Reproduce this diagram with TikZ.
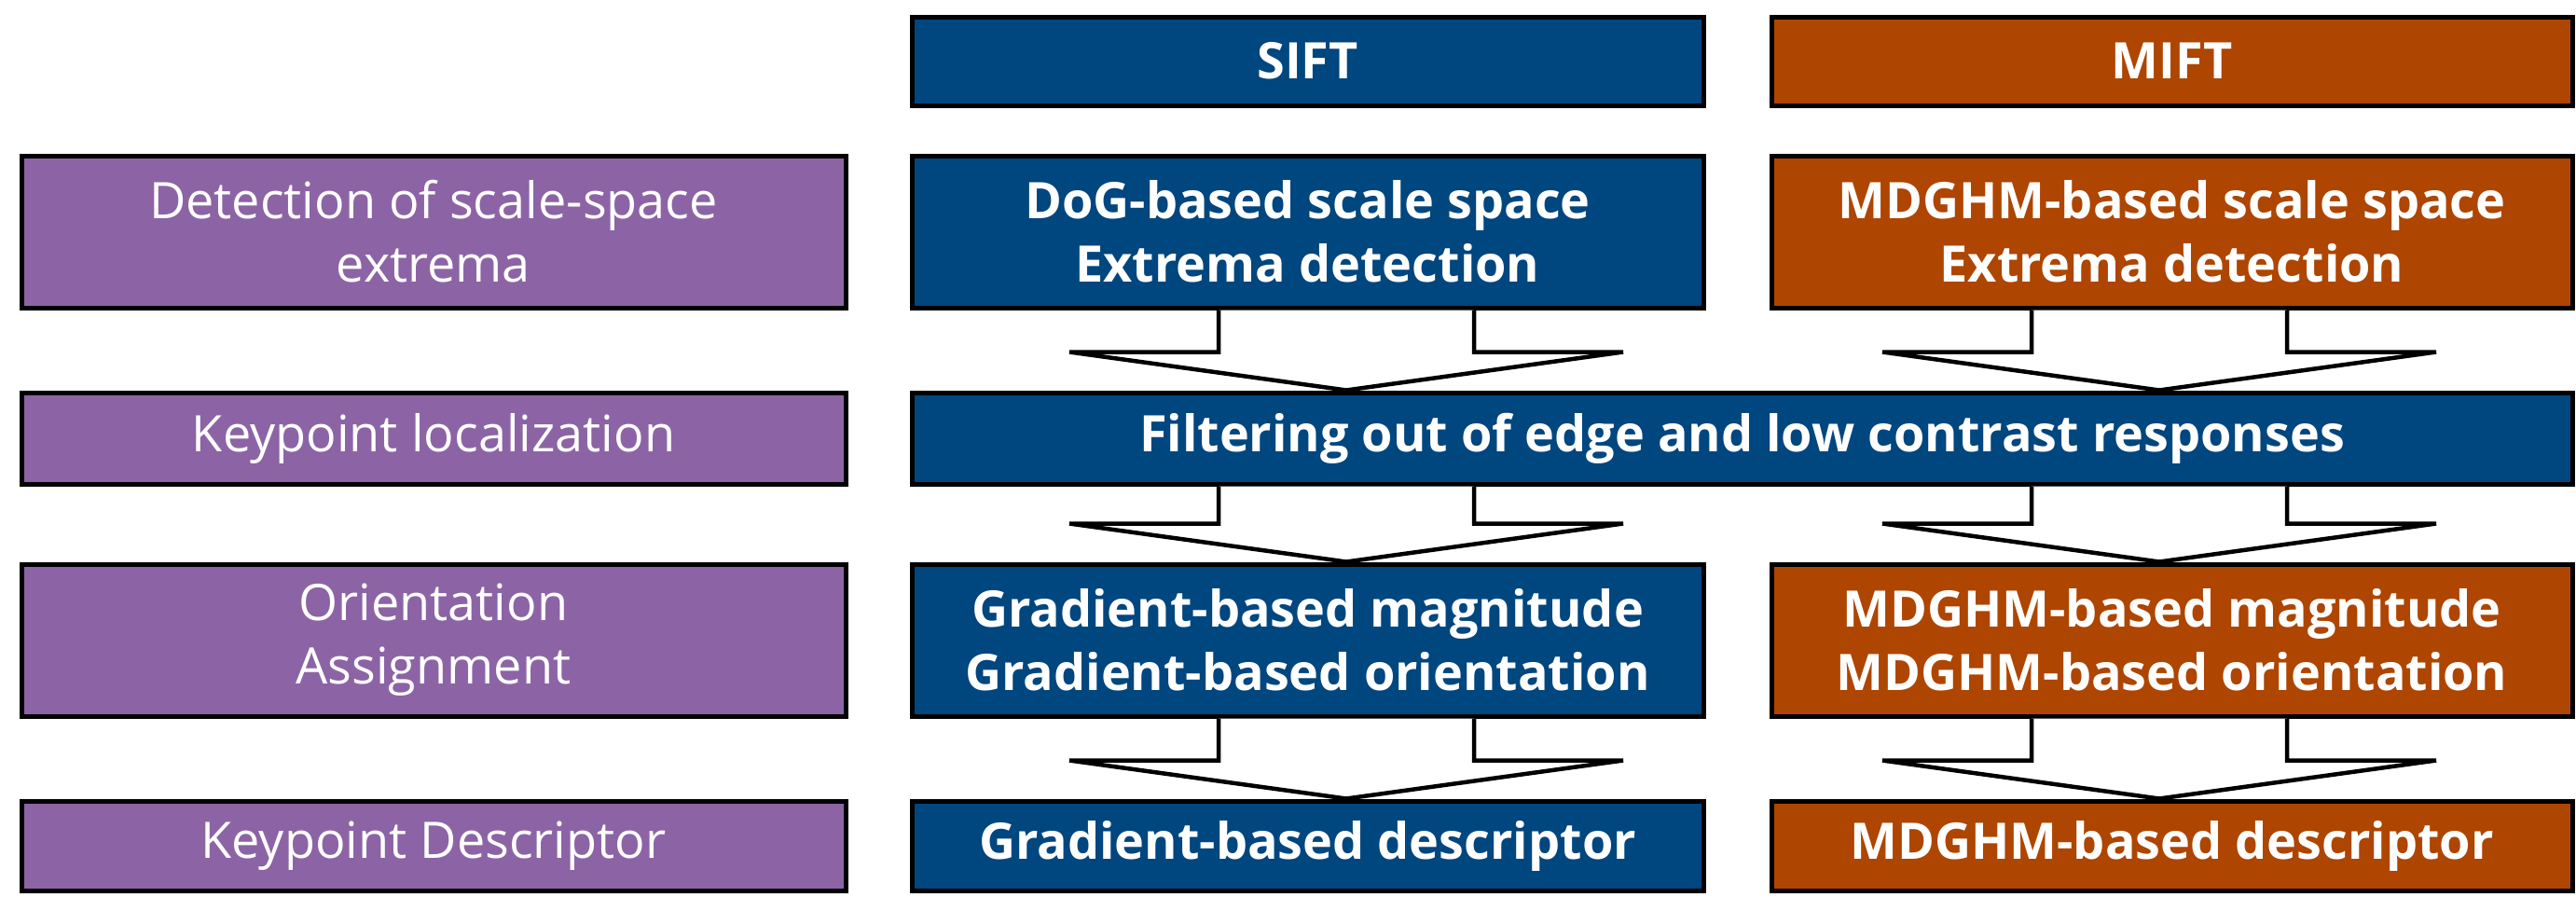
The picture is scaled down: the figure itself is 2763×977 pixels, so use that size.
\documentclass[tikz,border=0pt]{standalone}
\usepackage{fontspec}
\setmainfont{Open Sans}
\usetikzlibrary{calc}
\definecolor{sblue}{RGB}{0,70,127}
\definecolor{sorange}{RGB}{174,69,0}
\definecolor{spurple}{RGB}{140,100,165}
\newcommand\fatarrow[3]{%
  \draw[arr] let \p1=(#2.south), \p2=(#3.north) in
   (#1pt-137pt,\y1) -- (#1pt-137pt,\y2+41pt) -- (#1pt-297pt,\y2+41pt) -- (#1pt,\y2)
   -- (#1pt+297pt,\y2+41pt) -- (#1pt+137pt,\y2+41pt) -- (#1pt+137pt,\y1);}
\begin{document}
\begin{tikzpicture}[x=1pt,y=-1pt,
  box/.style={draw=black,line width=5pt,text=white,align=center,inner sep=0pt,font=\fontsize{54}{68}\selectfont},
  lab/.style={box,fill=spurple,minimum width=884pt},
  sb/.style={box,fill=sblue,minimum width=849pt,font=\fontsize{54}{68}\selectfont\bfseries},
  mb/.style={box,fill=sorange,minimum width=859pt,font=\fontsize{54}{68}\selectfont\bfseries},
  arr/.style={draw=black,fill=white,line width=4.5pt,line join=miter}]
\useasboundingbox (0,0) rectangle (2763,977);
\node[sb,minimum height=95pt] (sift) at (1402.5,65.5) {SIFT};
\node[mb,minimum height=95pt] (mift) at (2329.5,65.5) {MIFT};
\node[lab,minimum height=163pt] (l1) at (465,248.5) {Detection of scale-space\\extrema};
\node[sb,minimum height=163pt] (s1) at (1402.5,248.5) {DoG-based scale space\\Extrema detection};
\node[mb,minimum height=163pt] (m1) at (2329.5,248.5) {MDGHM-based scale space\\Extrema detection};
\node[lab,minimum height=98pt] (l2) at (465,470) {Keypoint localization};
\node[sb,minimum width=1781pt,minimum height=98pt] (f) at (1868.5,470) {Filtering out of edge and low contrast responses};
\node[lab,minimum height=163pt] (l3) at (465,686.5) {Orientation\\Assignment};
\node[sb,minimum height=163pt] (s3) at (1402.5,686.5) {Gradient-based magnitude\\Gradient-based orientation};
\node[mb,minimum height=163pt] (m3) at (2329.5,686.5) {MDGHM-based magnitude\\MDGHM-based orientation};
\node[lab,minimum height=96pt] (l4) at (465,907) {Keypoint Descriptor};
\node[sb,minimum height=96pt] (s4) at (1402.5,907) {Gradient-based descriptor};
\node[mb,minimum height=96pt] (m4) at (2329.5,907) {MDGHM-based descriptor};
\fatarrow{1444}{s1}{f}
\fatarrow{2316}{m1}{f}
\fatarrow{1444}{f}{s3}
\fatarrow{2316}{f}{m3}
\fatarrow{1444}{s3}{s4}
\fatarrow{2316}{m3}{m4}
\end{tikzpicture}
\end{document}
